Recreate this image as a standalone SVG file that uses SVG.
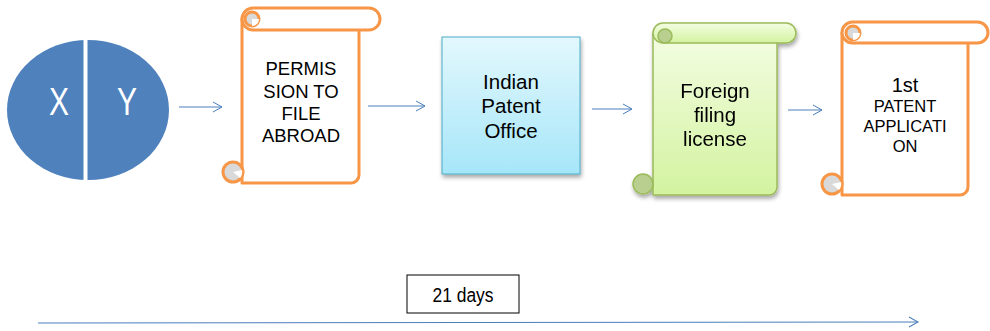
<svg xmlns="http://www.w3.org/2000/svg" width="990" height="331" viewBox="0 0 990 331">
<defs>
<linearGradient id="gBlue" x1="0" y1="0" x2="0" y2="1"><stop offset="0" stop-color="#e3f8fd"/><stop offset="1" stop-color="#a6e6f9"/></linearGradient>
<linearGradient id="gGreen" x1="0" y1="0" x2="0" y2="1"><stop offset="0" stop-color="#f3fde2"/><stop offset="1" stop-color="#d3f3a0"/></linearGradient>
<filter id="sh" x="-10%" y="-10%" width="130%" height="130%"><feGaussianBlur in="SourceAlpha" stdDeviation="2"/><feOffset dx="1" dy="3"/><feComponentTransfer><feFuncA type="linear" slope="0.35"/></feComponentTransfer><feMerge><feMergeNode/><feMergeNode in="SourceGraphic"/></feMerge></filter>
<marker id="ah" markerWidth="12" markerHeight="12" refX="10" refY="6" orient="auto" markerUnits="userSpaceOnUse"><path d="M1,1 L10,6 L1,11" fill="none" stroke="#4a7ebb" stroke-width="1"/></marker>
</defs>
<style>
.t{font-family:"Liberation Sans",Arial,sans-serif;fill:#000;text-anchor:middle}
.or{fill:#fff;stroke:#f79646;stroke-width:3;stroke-linejoin:round}
.gr{fill:url(#gGreen);stroke:#9bbb59;stroke-width:1.5;stroke-linejoin:round}
.curlO{fill:#d9d9d9;stroke:#f79646;stroke-width:3}
.curlG{fill:#b9cf8f;stroke:#9bbb59;stroke-width:1.5}
.con{stroke:#4a7ebb;stroke-width:1;fill:none}
</style>
<rect width="990" height="331" fill="#fff"/>

<g id="xy">
<ellipse cx="88" cy="110" rx="81" ry="70" fill="#4f81bd"/>
<rect x="83.5" y="38" width="4" height="144" fill="#fff"/>
<text class="t" x="59" y="115" style="font-size:38px;fill:#fff" textLength="20" lengthAdjust="spacingAndGlyphs">X</text>
<text class="t" x="127" y="115" style="font-size:38px;fill:#fff" textLength="20" lengthAdjust="spacingAndGlyphs">Y</text>
</g>

<g id="permission">
<path class="or" d="M242,18 V183 H351 A8,8 0 0 0 359,175 V30"/>
<rect class="or" x="242" y="8" width="138" height="22" rx="11"/>
<circle class="curlO" cx="252" cy="19" r="7"/>
<path d="M252,19 L259,19 A7,7 0 0 1 252,26 Z" fill="#fff"/>
<circle class="curlO" cx="233" cy="172" r="10"/>
<path d="M233,172 L242,170 A9,9 0 0 1 240,178 Z" fill="#fff"/>
<text class="t" style="font-size:18.5px"><tspan x="301" y="75">PERMIS</tspan><tspan x="301" y="98">SION TO</tspan><tspan x="301" y="120">FILE</tspan><tspan x="301" y="142">ABROAD</tspan></text>
</g>

<g id="office">
<rect x="442" y="37" width="138" height="137" fill="url(#gBlue)" stroke="#4bacc6" stroke-width="1" filter="url(#sh)"/>
<text class="t" style="font-size:20.5px"><tspan x="511" y="89">Indian</tspan><tspan x="511" y="113">Patent</tspan><tspan x="511" y="138">Office</tspan></text>
</g>

<g id="license" filter="url(#sh)">
<path class="gr" d="M653,33 V195 H769 A8,8 0 0 0 777,187 V43"/>
<rect class="gr" x="653" y="23" width="143" height="20" rx="10"/>
<circle class="curlG" cx="665" cy="36" r="7"/>
<circle class="curlG" cx="643" cy="184" r="10"/>
<text class="t" style="font-size:20.5px"><tspan x="715" y="98">Foreign</tspan><tspan x="715" y="122">filing</tspan><tspan x="715" y="146">license</tspan></text>
</g>

<g id="application">
<path class="or" d="M842,32 V195 H960 A8,8 0 0 0 968,187 V43"/>
<rect class="or" x="842" y="22" width="146" height="21" rx="10.5"/>
<circle class="curlO" cx="853" cy="33" r="7"/>
<path d="M853,33 L860,33 A7,7 0 0 1 853,40 Z" fill="#fff"/>
<circle class="curlO" cx="832" cy="184" r="10"/>
<path d="M832,184 L841,182 A9,9 0 0 1 839,190 Z" fill="#fff"/>
<text class="t" style="font-size:20px"><tspan x="905" y="92">1st</tspan></text>
<text class="t" style="font-size:16.5px"><tspan x="905" y="112">PATENT</tspan><tspan x="905" y="132">APPLICATI</tspan><tspan x="905" y="152">ON</tspan></text>
</g>

<g id="days">
<rect x="407" y="275" width="112" height="38" fill="#fff" stroke="#000" stroke-width="1"/>
<text class="t" x="463" y="302" style="font-size:20px" textLength="61" lengthAdjust="spacingAndGlyphs">21 days</text>
</g>

<g id="connectors">
<line class="con" x1="179" y1="107" x2="222" y2="107" marker-end="url(#ah)"/>
<line class="con" x1="368" y1="106" x2="425" y2="106" marker-end="url(#ah)"/>
<line class="con" x1="592" y1="109" x2="632" y2="109" marker-end="url(#ah)"/>
<line class="con" x1="788" y1="110" x2="822" y2="110" marker-end="url(#ah)"/>
<line class="con" x1="38" y1="323" x2="918" y2="322" marker-end="url(#ah)"/>
</g>
</svg>
